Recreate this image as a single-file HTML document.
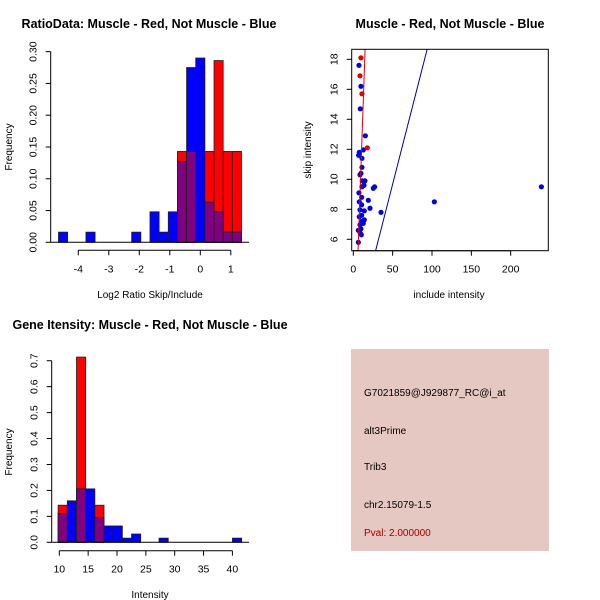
<!DOCTYPE html>
<html><head><meta charset="utf-8"><style>
body{margin:0;background:#fff}svg{display:block}
text{font-family:"Liberation Sans",sans-serif;fill:#000}
</style></head><body>
<svg id="s" width="600" height="600" xmlns="http://www.w3.org/2000/svg">
<rect width="600" height="600" fill="#fff"/>
<text x="149" y="28" font-size="12.5" font-weight="bold" text-anchor="middle">RatioData: Muscle - Red, Not Muscle - Blue</text>
<text x="450" y="28" font-size="12.5" font-weight="bold" text-anchor="middle">Muscle - Red, Not Muscle - Blue</text>
<text x="150" y="329" font-size="12.5" font-weight="bold" text-anchor="middle">Gene Itensity: Muscle - Red, Not Muscle - Blue</text>
<text x="150" y="298" font-size="10" text-anchor="middle">Log2 Ratio Skip/Include</text>
<text transform="translate(12,147) rotate(-90)" font-size="10" text-anchor="middle">Frequency</text>
<text x="449" y="298" font-size="10" text-anchor="middle">include intensity</text>
<text transform="translate(311,150) rotate(-90)" font-size="10" text-anchor="middle">skip intensity</text>
<text x="150" y="598" font-size="10" text-anchor="middle">Intensity</text>
<text transform="translate(12,452) rotate(-90)" font-size="10" text-anchor="middle">Frequency</text>
<g>
<rect x="351" y="349" width="198" height="202" fill="#e6c8c2"/>
<text x="364" y="396" font-size="10">G7021859@J929877_RC@i_at</text>
<text x="364" y="434" font-size="10">alt3Prime</text>
<text x="364" y="470" font-size="10">Trib3</text>
<text x="364" y="508" font-size="10">chr2.15079-1.5</text>
<text x="364" y="536" font-size="10" style="fill:#a00000">Pval: 2.000000</text>
</g>
</svg>
<script>
// Ratio histogram data
const ratioStart=-4.65, ratioWidth=0.3;
const ratioBlue=[0.016,0,0,0.016,0,0,0,0,0.016,0,0.048,0.016,0.048,0.127,0.275,0.29,0.063,0.048,0.016,0.016];
const ratioRed=[0,0,0,0,0,0,0,0,0,0,0,0,0,0.143,0.143,0,0.143,0.286,0.143,0.143];
const ratioXTicks=[-4,-3,-2,-1,0,1];
const ratioYTicks=["0.00","0.05","0.10","0.15","0.20","0.25","0.30"];
// Intensity histogram data
const intStart=9.8, intWidth=1.59;
const intBlue=[0.111,0.16,0.206,0.206,0.095,0.063,0.063,0.016,0.032,0,0,0.016,0,0,0,0,0,0,0,0.016];
const intRed=[0.143,0,0.714,0,0.143,0,0,0,0,0,0,0,0,0,0,0,0,0,0,0];
const intXTicks=[10,15,20,25,30,35,40];
const intYTicks=["0.0","0.1","0.2","0.3","0.4","0.5","0.6","0.7"];
// Scatter data
const redX=[9.7,8.5,11,17.8];
const redY=[18.1,16.9,15.7,12.1];
const blueX=[7.2,9.7,8.9,15.3,12.7,7.6,6.8,11,11,9.7,8.5,14.8,11.4,13.6,11,25.4,27.1,7.2,10.6,19.1,7.6,10.6,8.5,21.2,35.2,14,10.6,7.6,14,11,8.5,9.7,10.2,6.4,103,239,12.7,6.4,8.9];
const blueY=[17.6,16.2,14.7,12.9,11.96,11.8,11.6,11.4,10.8,10.4,10.3,9.9,9.9,9.6,9.5,9.4,9.5,9.1,8.8,8.6,8.5,8.3,7.96,8.07,7.8,7.9,7.6,7.5,7.3,7.2,6.96,6.7,6.3,5.8,8.5,9.5,7.07,6.6,6.4];
const redLineX=[6,15];
const redLineY=[5.2,18.7];
const blueLineX=[28.4,94];
const blueLineY=[5.25,18.7];
const scXTicks=[0,50,100,150,200];
const scYTicks=[6,8,10,12,14,16,18];

const S=document.getElementById('s');const NS='http://www.w3.org/2000/svg';
function mk(t,a,p){const e=document.createElementNS(NS,t);for(const k in a)e.setAttribute(k,a[k]);(p||S).appendChild(e);return e;}

function hist(o){
  const g=mk('g',{});
  
  
  const X=v=>o.x0+(v-o.xv0)*o.xs, Y=v=>o.y0-v*o.ys;
  const n=o.blue.length;
  for(let i=0;i<n;i++){
    const a=X(o.start+i*o.w), b=X(o.start+(i+1)*o.w);
    const r=o.red[i], bl=o.blue[i], m=Math.min(r,bl);
    const draw=(v,c,nm)=>{if(v<=0)return;const e=mk('rect',{x:a,y:Y(v),width:b-a,height:Y(0)-Y(v),fill:c,stroke:'#202020','stroke-width':0.8},g);
      
      };
    draw(r,'#ff0000','red-bar');draw(bl,'#0000ff','blue-bar');draw(m,'#800080','overlap-bar');
  }
  mk('line',{x1:o.x0b,x2:o.x1b,y1:Y(0),y2:Y(0),stroke:'#000'},g);
  const yv=o.yt.map(Number);
  mk('line',{x1:o.yax,x2:o.yax,y1:Y(yv[0]),y2:Y(yv[yv.length-1]),stroke:'#000'},g);
  o.yt.forEach(t=>{const y=Y(+t);mk('line',{x1:o.yax-5,x2:o.yax,y1:y,y2:y,stroke:'#000'},g);
    const tx=mk('text',{transform:`translate(${o.yax-14},${y}) rotate(-90)`,'font-size':10.5,'text-anchor':'middle'},g);tx.textContent=t;});
  mk('line',{x1:X(o.xt[0]),x2:X(o.xt[o.xt.length-1]),y1:o.xax,y2:o.xax,stroke:'#000'},g);
  o.xt.forEach(t=>{const x=X(t);mk('line',{x1:x,x2:x,y1:o.xax,y2:o.xax+5,stroke:'#000'},g);
    const tx=mk('text',{x:x,y:o.xax+22,'font-size':10.5,'text-anchor':'middle'},g);tx.textContent=t;});
}
hist({name:'ratio-histogram',x0:78.3,xv0:-4,xs:30.5,y0:242.3,ys:635.5,start:ratioStart,w:ratioWidth,blue:ratioBlue,red:ratioRed,xt:ratioXTicks,yt:ratioYTicks,yax:50.7,xax:250.3,x0b:50.7,x1b:249});
hist({name:'intensity-histogram',x0:59.3,xv0:10,xs:5.77,y0:542.3,ys:259.4,start:intStart,w:intWidth,blue:intBlue,red:intRed,xt:intXTicks,yt:intYTicks,yax:51.7,xax:550.7,x0b:51.7,x1b:249});

(function(){
  const g=mk('g',{});
  
  
  const X=v=>353.3+v*0.787, Y=v=>239.3-(v-6)*15;
  const L=351.7,R=548.3,T=49.3,B=250.7;
  const cp=mk('clipPath',{id:'cp'},g);mk('rect',{x:L,y:T,width:R-L,height:B-T},cp);
  const pg=mk('g',{'clip-path':'url(#cp)'},g);
  blueX.forEach((x,i)=>{const c=mk('circle',{cx:X(x),cy:Y(blueY[i]),r:2.6,fill:'#0000e0'},pg);
    
    });
  redX.forEach((x,i)=>{const c=mk('circle',{cx:X(x),cy:Y(redY[i]),r:2.6,fill:'#e00000'},pg);
    
    });
  const rl=mk('line',{x1:X(redLineX[0]),y1:Y(redLineY[0]),x2:X(redLineX[1]),y2:Y(redLineY[1]),stroke:'#e00000'},pg);
  
  
  const bl=mk('line',{x1:X(blueLineX[0]),y1:Y(blueLineY[0]),x2:X(blueLineX[1]),y2:Y(blueLineY[1]),stroke:'#0000a0'},pg);
  
  
  mk('rect',{x:L,y:T,width:R-L,height:B-T,fill:'none',stroke:'#000'},g);
  scXTicks.forEach(t=>{const x=X(t);mk('line',{x1:x,x2:x,y1:B,y2:B+5,stroke:'#000'},g);
    const tx=mk('text',{x:x,y:B+22,'font-size':10.5,'text-anchor':'middle'},g);tx.textContent=t;});
  mk('line',{x1:X(scXTicks[0]),x2:X(scXTicks[scXTicks.length-1]),y1:B,y2:B,stroke:'#000'},g);
  scYTicks.forEach(t=>{const y=Y(t);mk('line',{x1:L-5,x2:L,y1:y,y2:y,stroke:'#000'},g);
    const tx=mk('text',{transform:`translate(${L-14},${y}) rotate(-90)`,'font-size':10.5,'text-anchor':'middle'},g);tx.textContent=t;});
})();
</script>
</body></html>
